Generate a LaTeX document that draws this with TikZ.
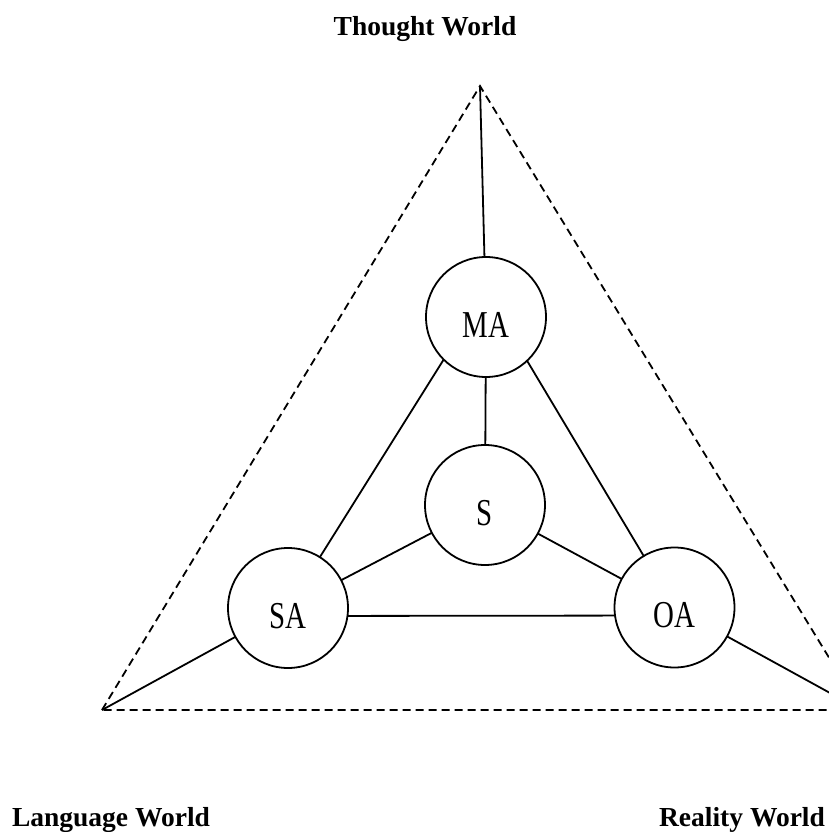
\documentclass[tikz,border=0pt]{standalone}
\usepackage{fontspec}
\setmainfont{Liberation Serif}
\newfontfamily\narrowserif[FakeStretch=0.76]{Liberation Serif}
\usetikzlibrary{backgrounds}
\tikzset{
  world/.style={font=\fontsize{27.5}{30}\selectfont\bfseries, anchor=base, inner sep=0pt},
  agent/.style={circle, draw, line width=1.8pt, fill=white, minimum size=120pt, inner sep=0pt},
  agentlabel/.style={font=\narrowserif\fontsize{38}{40}\selectfont, inner sep=0pt},
  link/.style={line width=1.8pt},
  realm/.style={line width=1.8pt, dash pattern=on 8pt off 5pt},
}
\begin{document}
\begin{tikzpicture}[x=1pt, y=-1pt]
\useasboundingbox (0,0) rectangle (829,832);
% corners of the triangle
\coordinate (T) at (480,86);
\coordinate (L) at (102,710);
\coordinate (R) at (861,710);
% circles
\node[agent] (MA) at (486,317) {};
\node[agent] (S)  at (485,505) {};
\node[agent] (SA) at (288,608) {};
\node[agent] (OA) at (674.5,607.5) {};
\node[agentlabel] (MAl) at ([yshift=-8pt]MA.center) {MA};
\node[agentlabel] (Sl)  at ([yshift=-8pt]S.center) {S};
\node[agentlabel] (SAl) at ([yshift=-8pt]SA.center) {SA};
\node[agentlabel] (OAl) at ([yshift=-8pt]OA.center) {OA};
\coordinate (MAh) at ([yshift=25pt]MA.center);
% world labels
\node[world] (tw) at (425,36) {Thought World};
\node[world] (lw) at (111,826) {Language World};
\node[world] (rw) at (742,826) {Reality World};
\begin{pgfonlayer}{background}
  \draw[realm] (L) -- (T) -- (R) -- cycle;
  \draw[link] (T) -- (MA.center);
  \draw[link] (MA.center) -- (S.center);
  \draw[link] (MAh) -- (SA.center);
  \draw[link] (MAh) -- (OA.center);
  \draw[link] (S.center) -- (SA.center);
  \draw[link] (S.center) -- (OA.center);
  \draw[link] ([yshift=-8pt]SA.center) -- ([yshift=-8pt]OA.center);
  \draw[link] (SA.center) -- (L);
  \draw[link] (OA.center) -- (R);
\end{pgfonlayer}
\end{tikzpicture}
\end{document}
